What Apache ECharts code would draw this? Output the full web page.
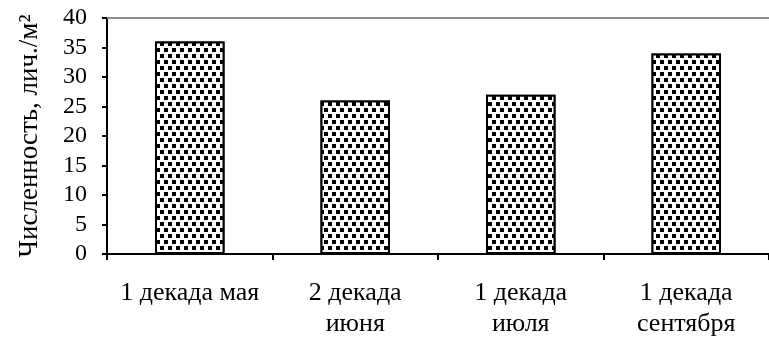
<!DOCTYPE html>
<html>
<head>
<meta charset="utf-8">
<script src="https://cdn.jsdelivr.net/npm/echarts@6/dist/echarts.min.js"></script>
<style>
html,body{margin:0;padding:0;background:#fff;}
#chart{width:769px;height:345px;}
</style>
</head>
<body>
<div id="chart"></div>
<script>
// данные
var categories = ['1 декада мая', '2 декада\nиюня', '1 декада\nиюля', '1 декада\nсентября'];
var values = [36, 26, 27, 34];
var yTicks = {min: 0, max: 40, interval: 5};
var yName = 'Численность, лич./м²';

var font = 'Liberation Serif';
var myChart = echarts.init(document.getElementById('chart'));
myChart.setOption({
	animation: false,
	backgroundColor: '#fff',
	grid: {left: 107, right: 0, top: 18, bottom: 91},
	xAxis: [{
		type: 'category',
		data: categories,
		axisLine: {lineStyle: {color: '#000', width: 2}},
		axisTick: {show: true, interval: 0, length: 6, lineStyle: {color: '#000', width: 2}},
		axisLabel: {interval: 0, color: '#000', fontFamily: font, fontSize: 26, lineHeight: 31, margin: 24}
	}, {
		type: 'category',
		position: 'top',
		data: categories,
		axisLine: {show: true, lineStyle: {color: '#8c8c8c', width: 2}},
		axisTick: {show: false},
		axisLabel: {show: false}
	}],
	yAxis: {
		type: 'value',
		min: yTicks.min,
		max: yTicks.max,
		interval: yTicks.interval,
		name: yName,
		nameLocation: 'middle',
		nameGap: 64,
		nameTextStyle: {color: '#000', fontFamily: font, fontSize: 27},
		axisLine: {show: true, lineStyle: {color: '#000', width: 2}},
		axisTick: {show: true, length: 5, lineStyle: {color: '#000', width: 2}},
		axisLabel: {color: '#000', fontFamily: font, fontSize: 24, margin: 20},
		splitLine: {show: false}
	},
	series: [{
		type: 'bar',
		data: values,
		barWidth: '42%',
		itemStyle: {
			color: '#fff',
			borderColor: '#000',
			borderWidth: 2,
			decal: {
				symbol: 'rect',
				symbolSize: 1,
				color: '#000',
				backgroundColor: '#fff',
				dashArrayX: [[4, 4], [0, 4, 4, 0]],
				dashArrayY: [4, 2],
				rotation: 0
			}
		}
	}]
});
</script>
</body>
</html>
